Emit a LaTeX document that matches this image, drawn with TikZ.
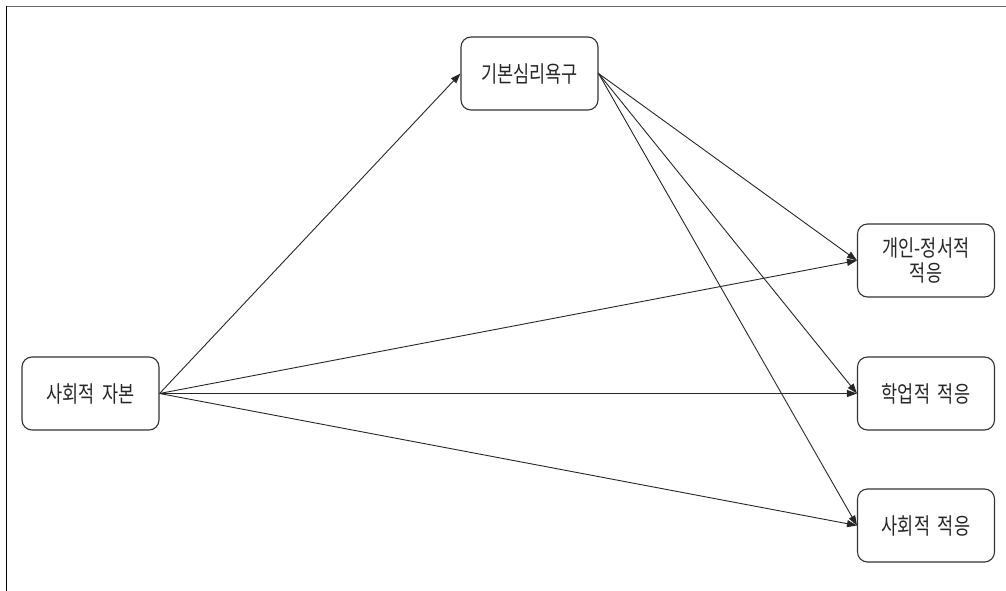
\documentclass[tikz,border=0pt]{standalone}
\usepackage{fontspec}
\usepackage{graphicx}
\setmainfont{Noto Sans CJK KR}
\usetikzlibrary{arrows.meta}
\newcommand{\tall}[1]{\scalebox{1}[1.3]{#1}}
\newcommand{\gap}{\hspace{0.45em}}
\tikzset{
  box/.style={draw=black!80, line width=1.1pt, rounded corners=10pt,
    minimum width=137pt, minimum height=73pt, inner sep=0pt,
    align=center, font=\fontsize{17.5pt}{24pt}\selectfont, text=black!85},
  link/.style={draw=black!85, line width=0.9pt,
    -{Triangle[length=10pt,width=7pt]}},
}
\begin{document}
\begin{tikzpicture}[x=1pt,y=-1pt]
  \useasboundingbox (0,0) rectangle (1006,591);
  % page frame (top and left edges)
  \draw[black!60, line width=1.5pt] (6,6.5) -- (1006,6.5);
  \draw[black, line width=1.5pt] (6.5,6) -- (6.5,591);

  \node[box] (need)  at (529.5,73.5)  {\tall{기본심리욕구}};
  \node[box] (cap)   at (90.5,393.5)  {\tall{사회적\gap 자본}};
  \node[box] (emo)   at (926,260.5)   {\tall{개인-정서적}\\[1pt]\tall{적응}};
  \node[box] (acad)  at (926,393.5)   {\tall{학업적\gap 적응}};
  \node[box] (soc)   at (926,525.5)   {\tall{사회적\gap 적응}};

  \draw[link] (cap.east) -- (need.west);
  \draw[link] (cap.east) -- (emo.west);
  \draw[link] (cap.east) -- (acad.west);
  \draw[link] (cap.east) -- (soc.west);
  \draw[link] (need.east) -- (emo.west);
  \draw[link] (need.east) -- (acad.west);
  \draw[link] (need.east) -- (soc.west);
\end{tikzpicture}
\end{document}
